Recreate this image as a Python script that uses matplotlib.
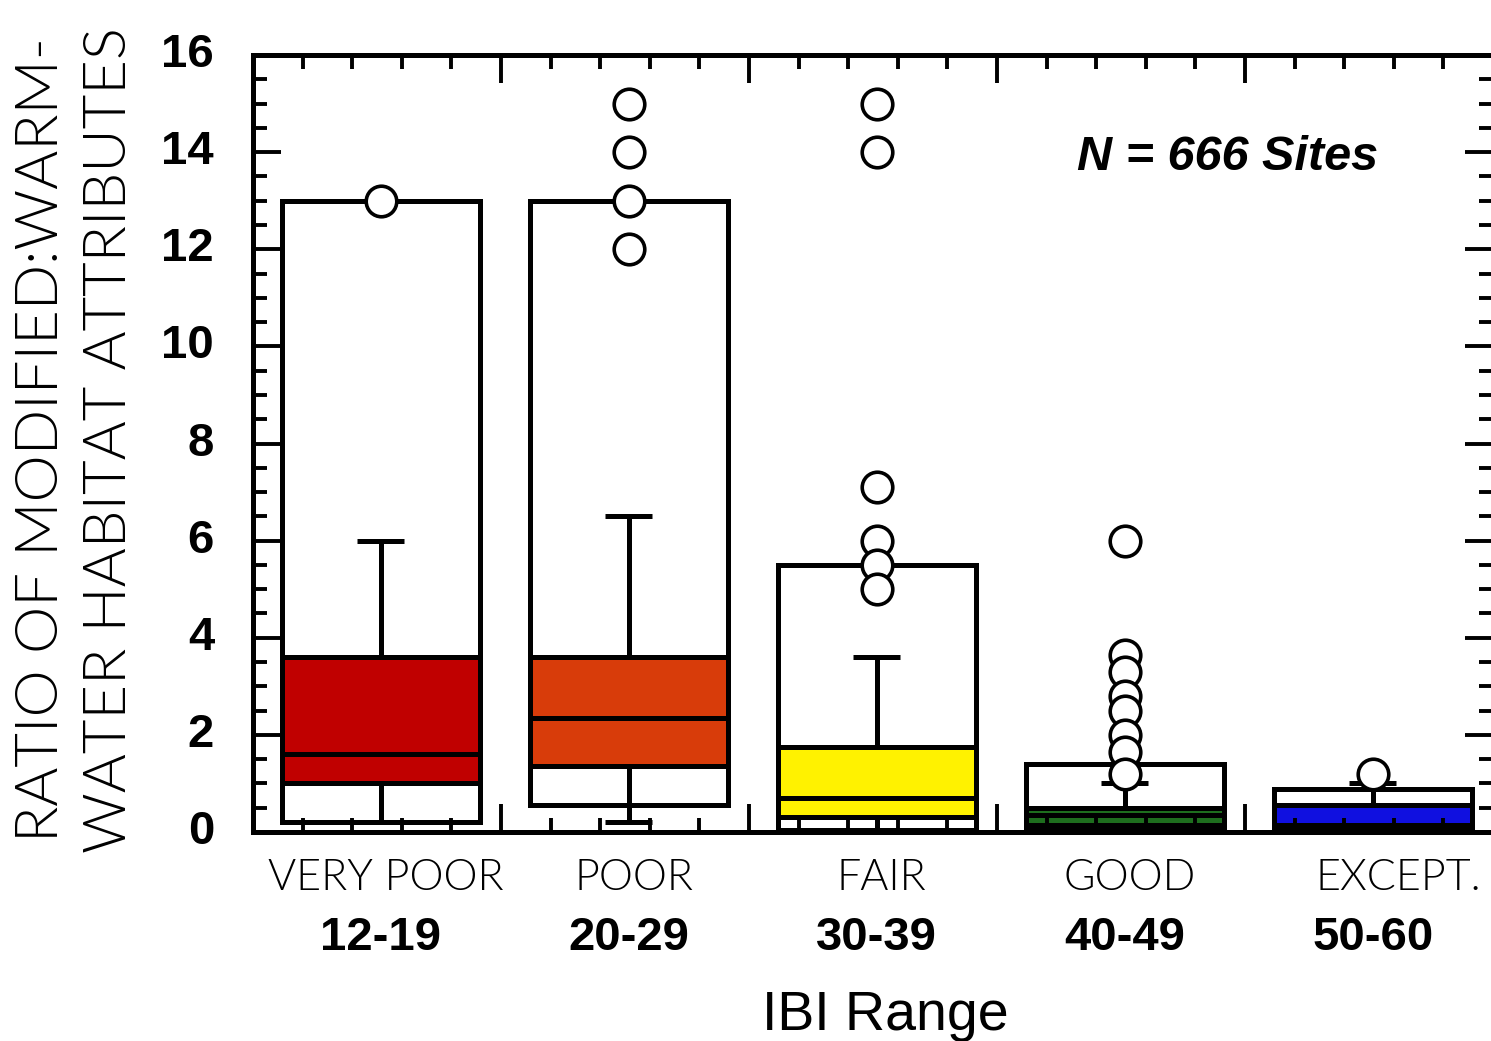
import matplotlib
matplotlib.use("Agg")
import matplotlib.pyplot as plt
import matplotlib.transforms as mtransforms
from matplotlib.patches import Rectangle
from matplotlib.ticker import MultipleLocator, NullFormatter

# ---------------- data ----------------
categories = ["VERY POOR", "POOR", "FAIR", "GOOD", "EXCEPT."]
ranges = ["12-19", "20-29", "30-39", "40-49", "50-60"]
rect_lo = [0.2, 0.55, 0.05, 0.05, 0.05]
rect_hi = [13.0, 13.0, 5.5, 1.4, 0.88]
whisk_lo = [0.2, 0.2, 0.05, 0.05, 0.05]
q1 = [1.0, 1.35, 0.3, 0.15, 0.1]
median = [1.6, 2.35, 0.7, 0.35, 0.15]
q3 = [3.6, 3.6, 1.75, 0.5, 0.55]
whisk_hi = [6.0, 6.5, 3.6, 1.0, 1.0]
outliers = [
    [13.0],
    [15.0, 14.0, 13.0, 12.0],
    [15.0, 14.0, 7.1, 6.0, 5.5, 5.0],
    [6.0, 3.65, 3.3, 2.8, 2.5, 2.0, 1.65, 1.2],
    [1.2],
]
colors = ["#C00000", "#D83C0A", "#FFF200", "#1E6E1E", "#1010E0"]
yticks = [0, 2, 4, 6, 8, 10, 12, 14, 16]

THIN = ["Lato", "Liberation Sans", "DejaVu Sans"]

# ---------------- figure ----------------
W, H = 1491, 1041
fig = plt.figure(figsize=(W / 100, H / 100), dpi=100)
fig.patch.set_facecolor("white")
ax = fig.add_axes([253 / W, 1 - 832 / H, 1240 / W, 777 / H])
ax.set_xlim(0, 5)
ax.set_ylim(0, 16)

LW = 3.6
bw = 0.80
capw = 0.19
off = 0.515
for i in range(len(categories)):
    c = i + off
    # outer range rectangle
    ax.add_patch(Rectangle((c - bw / 2, rect_lo[i]), bw, rect_hi[i] - rect_lo[i],
                           facecolor="white", edgecolor="black", lw=LW, zorder=1.0))
    # whiskers
    ax.plot([c, c], [q3[i], whisk_hi[i]], color="black", lw=LW, zorder=1.2,
            solid_capstyle="butt")
    ax.plot([c, c], [whisk_lo[i], q1[i]], color="black", lw=LW, zorder=1.2,
            solid_capstyle="butt")
    ax.plot([c - capw / 2, c + capw / 2], [whisk_hi[i]] * 2, color="black", lw=LW,
            zorder=1.2, solid_capstyle="butt")
    ax.plot([c - capw / 2, c + capw / 2], [whisk_lo[i]] * 2, color="black", lw=LW,
            zorder=1.2, solid_capstyle="butt")
    # IQR box
    ax.add_patch(Rectangle((c - bw / 2, q1[i]), bw, q3[i] - q1[i],
                           facecolor=colors[i], edgecolor="black", lw=LW, zorder=1.4))
    ax.plot([c - bw / 2, c + bw / 2], [median[i]] * 2, color="black", lw=LW,
            zorder=1.5, solid_capstyle="butt")
    # outliers
    ax.plot([c] * len(outliers[i]), outliers[i], linestyle="none", marker="o",
            markersize=22, markerfacecolor="white", markeredgecolor="black",
            markeredgewidth=2.6, zorder=3, clip_on=False)

# ticks
ax.xaxis.set_major_locator(MultipleLocator(1))
ax.xaxis.set_minor_locator(MultipleLocator(0.2))
ax.xaxis.set_major_formatter(NullFormatter())
ax.set_yticks(yticks)
ax.yaxis.set_minor_locator(MultipleLocator(0.5))
ax.tick_params(which="both", direction="in", top=True, right=True, width=2.8,
               color="black")
ax.tick_params(which="major", length=20)
ax.tick_params(which="minor", length=10)
ax.tick_params(axis="y", which="major", pad=28, labelsize=34)
for lab in ax.get_yticklabels():
    lab.set_fontweight("bold")
    lab.set_fontfamily("Liberation Sans")
# lift y tick labels a few pixels
for lab in ax.get_yticklabels():
    lab.set_transform(lab.get_transform() + mtransforms.ScaledTranslation(0, 5 / 100, fig.dpi_scale_trans))
for sp in ax.spines.values():
    sp.set_linewidth(LW)

# category labels
trans = mtransforms.blended_transform_factory(ax.transData, fig.transFigure)
for i in range(len(categories)):
    c = i + off
    if i == len(categories) - 1:
        ax.text((1315 - 253) / 248, 1 - 890 / H, categories[i], transform=trans,
                ha="left", va="baseline", fontsize=31, family=THIN,
                fontweight=300, clip_on=False)
    else:
        ax.text(c + 0.02, 1 - 890 / H, categories[i], transform=trans, ha="center",
                va="baseline", fontsize=31, family=THIN, fontweight=300,
                clip_on=False)
    ax.text(c, 1 - 950 / H, ranges[i], transform=trans, ha="center",
            va="baseline", fontsize=34, family="Liberation Sans", fontweight="bold",
            clip_on=False)

ax.text(2.55, 1 - 1030 / H, "IBI Range", transform=trans, ha="center",
        va="baseline", fontsize=40, family="Liberation Sans", clip_on=False)

ax.text((1228 - 253) / 1240, (832 - 158) / 777, "N = 666 Sites",
        transform=ax.transAxes, ha="center", va="center", fontsize=35,
        family="Liberation Sans", fontweight="bold", fontstyle="italic")

fig.text(42 / W, 1 - 440 / H, "RATIO OF MODIFIED:WARM-", rotation=90,
         ha="center", va="center", fontsize=43, family=THIN, fontweight=300)
fig.text(110 / W, 1 - 440 / H, "WATER HABITAT ATTRIBUTES", rotation=90,
         ha="center", va="center", fontsize=43, family=THIN, fontweight=300)

fig.savefig("out.png", dpi=100, facecolor="white")
